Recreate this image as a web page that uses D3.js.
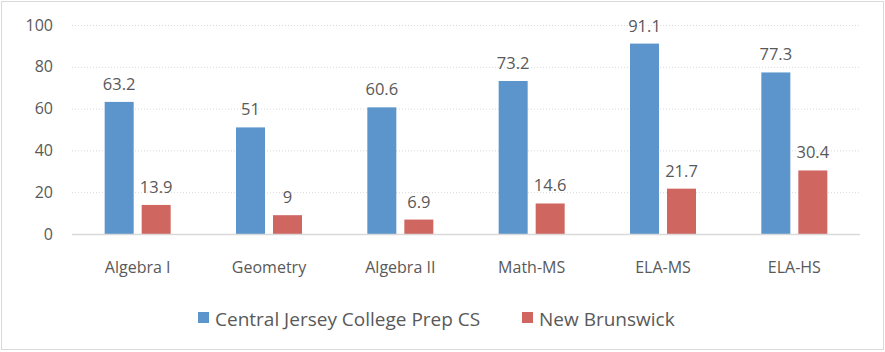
<!DOCTYPE html>
<html>
<head>
<meta charset="utf-8">
<script src="https://cdn.jsdelivr.net/npm/d3@7"></script>
<style>
  body { margin: 0; background: #fff; }
  text { font-family: "Open Sans", "Noto Sans", sans-serif; fill: #595959; }
</style>
</head>
<body>
<svg width="885" height="352"></svg>
<script>
const categories = ['Algebra I', 'Geometry', 'Algebra II', 'Math-MS', 'ELA-MS', 'ELA-HS'];
const seriesNames = ['Central Jersey College Prep CS', 'New Brunswick'];
const cjcp = [63.2, 51, 60.6, 73.2, 91.1, 77.3];
const nb = [13.9, 9, 6.9, 14.6, 21.7, 30.4];
const yTicks = [0, 20, 40, 60, 80, 100];
const colors = ['#5b95cb', '#cf6660'];

const svg = d3.select('svg');
const width = 885, height = 352;

// chart frame
svg.append('rect')
    .attr('x', 1.5).attr('y', 1.5)
    .attr('width', width - 3).attr('height', height - 4)
    .attr('fill', '#fff')
    .attr('stroke', '#d9d9d9');

const x = d3.scaleBand().domain(categories).range([72, 860]);
const y = d3.scaleLinear().domain([0, 100]).range([234, 25]);
const barW = 29, gap = 8;

// gridlines
svg.append('g').selectAll('line')
    .data(yTicks.filter(d => d > 0))
    .enter().append('line')
    .attr('x1', 72).attr('x2', 860)
    .attr('y1', d => y(d) + 0.5).attr('y2', d => y(d) + 0.5)
    .attr('stroke', '#d9d9d9')
    .attr('stroke-dasharray', '1,2');

// y tick labels
svg.append('g').selectAll('text')
    .data(yTicks)
    .enter().append('text')
    .attr('x', 53)
    .attr('y', d => y(d))
    .attr('dy', '0.35em')
    .attr('text-anchor', 'end')
    .style('font-size', '16px')
    .text(d => d);

const series = [cjcp, nb];
series.forEach((vals, si) => {
    const off = si === 0 ? -gap / 2 - barW : gap / 2;
    const g = svg.append('g');
    g.selectAll('rect')
        .data(vals)
        .enter().append('rect')
        .attr('x', (d, i) => x(categories[i]) + x.bandwidth() / 2 + off)
        .attr('y', d => y(d))
        .attr('width', barW)
        .attr('height', d => y(0) - y(d))
        .attr('fill', colors[si]);
    g.selectAll('text')
        .data(vals)
        .enter().append('text')
        .attr('x', (d, i) => x(categories[i]) + x.bandwidth() / 2 + off + barW / 2)
        .attr('y', d => y(d) - 12)
        .attr('text-anchor', 'middle')
        .style('font-size', '16.5px')
        .text(d => d);
});

// baseline
svg.append('line')
    .attr('x1', 72).attr('x2', 860)
    .attr('y1', y(0) + 0.5).attr('y2', y(0) + 0.5)
    .attr('stroke', '#d9d9d9')
    .attr('stroke-width', 1.5);

// category labels
svg.append('g').selectAll('text')
    .data(categories)
    .enter().append('text')
    .attr('x', d => x(d) + x.bandwidth() / 2)
    .attr('y', 273)
    .attr('text-anchor', 'middle')
    .style('font-size', '16px')
    .text(d => d);

// legend
const legendX = [198, 522];
const legend = svg.append('g');
seriesNames.forEach((name, i) => {
    legend.append('rect')
        .attr('x', legendX[i]).attr('y', 312)
        .attr('width', 11).attr('height', 11)
        .attr('fill', colors[i]);
    legend.append('text')
        .attr('x', legendX[i] + 17)
        .attr('y', 319)
        .attr('dy', '0.35em')
        .style('font-size', '19px')
        .text(name);
});
</script>
</body>
</html>
